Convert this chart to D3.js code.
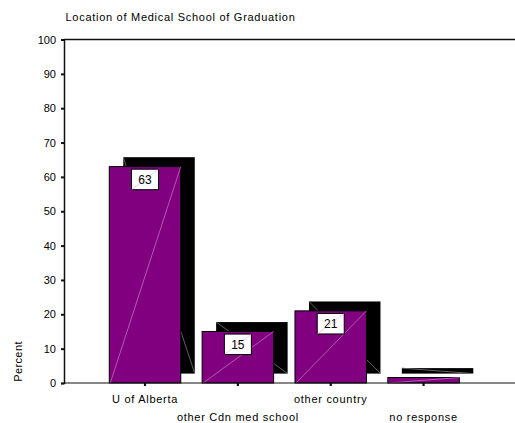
<!DOCTYPE html>
<html><head><meta charset="utf-8">
<script src="https://cdn.jsdelivr.net/npm/d3@7/dist/d3.min.js"></script>
<style>
body{margin:0;background:#fff;}
text{font-family:"Liberation Sans",Arial,sans-serif;fill:#000;}
</style></head>
<body>
<svg id="c" width="515" height="423"></svg>
<script>
const categories = ["U of Alberta","other Cdn med school","other country","no response"];
const values = [63, 15, 21, 1.6];
const valueLabels = ["63","15","21",""];
const yTicks = [0,10,20,30,40,50,60,70,80,90,100];
const title = "Location of Medical School of Graduation";
const yTitle = "Percent";

const svg = d3.select("#c");
const x0 = 64, x1 = 515, yTop = 39.5, yBot = 383;
const y = d3.scaleLinear().domain([0,100]).range([yBot, yTop]);
const x = d3.scaleBand().domain(categories).range([98.6, 470]).paddingInner(0.23).paddingOuter(0.115);
const dx = 14, dy = -9.4;

// title
svg.append("text").attr("x",65.5).attr("y",21).attr("font-size","11px")
  .attr("letter-spacing","0.72px").text(title);

// y axis label
svg.append("text").attr("transform","translate(21.5,361.5) rotate(-90)")
  .attr("text-anchor","middle").attr("font-size","11px").attr("letter-spacing","0.4px").text(yTitle);

// bars
const g = svg.append("g");
categories.forEach((c,i)=>{
  const bx = x(c), bw = x.bandwidth(), by = y(values[i]), bh = yBot - by;
  // shadow
  g.append("rect").attr("x",bx+dx).attr("y",by+dy).attr("width",bw).attr("height",bh)
    .attr("fill","#000");
  g.append("line").attr("x1",bx+dx).attr("y1",by+dy).attr("x2",bx+dx+bw).attr("y2",by+dy+bh)
    .attr("stroke","#7a7a7a").attr("stroke-width",0.8);
  // front
  g.append("rect").attr("x",bx).attr("y",by).attr("width",bw).attr("height",bh)
    .attr("fill","#800080").attr("stroke","#000").attr("stroke-width",1);
  g.append("line").attr("x1",bx+1).attr("y1",yBot).attr("x2",bx+bw).attr("y2",by)
    .attr("stroke","#c77ec7").attr("stroke-width",0.7);
  if (valueLabels[i]) {
    const cx = bx + bw/2, lw = 27, lh = 20.5, ly = by + 2.6;
    g.append("rect").attr("x",cx-lw/2).attr("y",ly).attr("width",lw).attr("height",lh)
      .attr("fill","#fff").attr("stroke","#000").attr("stroke-width",1);
    g.append("line").attr("x1",cx-lw/2).attr("y1",ly+lh).attr("x2",cx+lw/2).attr("y2",ly)
      .attr("stroke","#e0b0e0").attr("stroke-width",0.6);
    g.append("text").attr("x",cx).attr("y",ly+lh/2+4.5).attr("text-anchor","middle")
      .attr("font-size","12px").text(valueLabels[i]);
  }
});

// frame lines
svg.append("line").attr("x1",x0).attr("x2",x1).attr("y1",yTop).attr("y2",yTop)
  .attr("stroke","#111").attr("stroke-width",1.5);
svg.append("line").attr("x1",x0).attr("x2",x1).attr("y1",yBot).attr("y2",yBot)
  .attr("stroke","#111").attr("stroke-width",1.2);

// y axis
const ya = svg.append("g").attr("transform",`translate(${x0},0)`)
  .call(d3.axisLeft(y).tickValues(yTicks).tickSize(3).tickPadding(5));
ya.select(".domain").attr("stroke","#111").attr("stroke-width",1.5);
ya.selectAll(".tick line").attr("stroke","#111").attr("stroke-width",2);
ya.selectAll(".tick text").attr("font-size","11px").attr("font-family","Liberation Sans, Arial, sans-serif").attr("fill","#000");

// x axis
const xa = svg.append("g").attr("transform",`translate(0,${yBot})`)
  .call(d3.axisBottom(x).tickSize(3).tickPadding(9));
xa.select(".domain").remove();
xa.selectAll(".tick line").attr("stroke","#111").attr("stroke-width",2.2);
xa.selectAll(".tick text").attr("font-size","11px").attr("font-family","Liberation Sans, Arial, sans-serif").attr("fill","#000")
  .attr("letter-spacing","0.72px")
  .attr("dy",(d,i)=> i%2 ? "2.35em" : "0.71em");
</script>
</body></html>
